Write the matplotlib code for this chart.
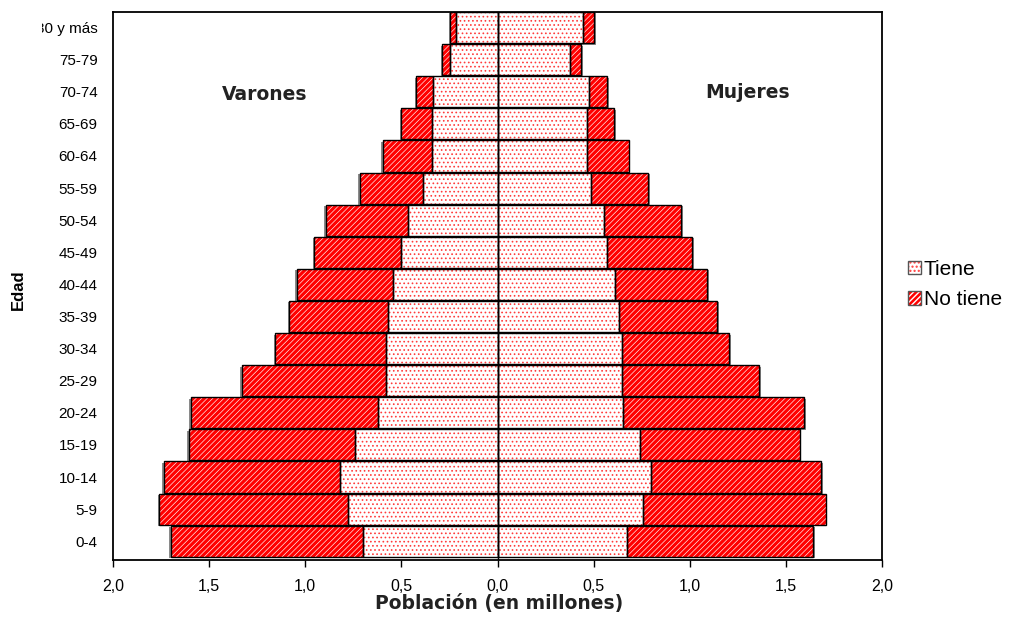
import numpy as np
import matplotlib
matplotlib.use("Agg")
import matplotlib.pyplot as plt
from matplotlib.patches import Patch
from matplotlib.legend_handler import HandlerTuple
from matplotlib.transforms import ScaledTranslation, Bbox, TransformedBbox

# ---------------- data ----------------
edades = ["0-4", "5-9", "10-14", "15-19", "20-24", "25-29", "30-34", "35-39",
          "40-44", "45-49", "50-54", "55-59", "60-64", "65-69", "70-74",
          "75-79", "80 y más"]
varones_tiene = [0.70, 0.78, 0.82, 0.74, 0.62, 0.58, 0.58, 0.57, 0.545,
                 0.50, 0.465, 0.39, 0.34, 0.34, 0.335, 0.245, 0.215]
varones_no_tiene = [1.00, 0.98, 0.915, 0.865, 0.975, 0.75, 0.577, 0.514, 0.498,
                    0.454, 0.429, 0.327, 0.256, 0.16, 0.087, 0.042, 0.031]
mujeres_tiene = [0.675, 0.755, 0.80, 0.74, 0.655, 0.65, 0.645, 0.63, 0.61,
                 0.57, 0.555, 0.488, 0.465, 0.465, 0.478, 0.379, 0.444]
mujeres_no_tiene = [0.967, 0.952, 0.884, 0.831, 0.94, 0.711, 0.56, 0.512, 0.48,
                    0.442, 0.40, 0.295, 0.219, 0.141, 0.093, 0.057, 0.059]
x_ticks = [-2.0, -1.5, -1.0, -0.5, 0.0, 0.5, 1.0, 1.5, 2.0]
x_tick_labels = ["2,0", "1,5", "1,0", "0,5", "0,0", "0,5", "1,0", "1,5", "2,0"]
serie_labels = ["Tiene", "No tiene"]

# ---------------- style ----------------
tick_font = ["Liberation Sans", "DejaVu Sans"]
RED = "#ff0000"
DOT_RED = "#ff3b3b"
DOTS = "...."
DIAG = "//////"
DOT_LW = 0.7
DIAG_LW = 0.45

W, H = 1013, 640
fig = plt.figure(figsize=(W / 100, H / 100), dpi=100)
ax = fig.add_axes([113 / W, 1 - 560 / H, (882 - 113) / W, (560 - 12) / H])

y = np.arange(len(edades))
h = 0.97
vt = np.array(varones_tiene)
vn = np.array(varones_no_tiene)
mt = np.array(mujeres_tiene)
mn = np.array(mujeres_no_tiene)

# shadows
sh_l = ax.barh(y, -(vt + vn), height=h, facecolor="#8a8a8a", linewidth=0, zorder=1)
sh_r = ax.barh(y, mt + mn, height=h, facecolor="#8a8a8a", linewidth=0, zorder=1)
for p in sh_l:
    p.set_transform(ax.transData + ScaledTranslation(-0.015, -0.015, fig.dpi_scale_trans))
for p in sh_r:
    p.set_transform(ax.transData + ScaledTranslation(0.015, -0.015, fig.dpi_scale_trans))

# hatched fills
for sign, t, n in ((-1, vt, vn), (1, mt, mn)):
    with plt.rc_context({"hatch.linewidth": DOT_LW}):
        ax.barh(y, sign * t, height=h, facecolor="white", edgecolor=DOT_RED,
                hatch=DOTS, linewidth=0, zorder=2)
    with plt.rc_context({"hatch.linewidth": DIAG_LW}):
        ax.barh(y, sign * n, left=sign * t, height=h, facecolor=RED, edgecolor="white",
                hatch=DIAG, linewidth=0, zorder=2)
    ax.barh(y, sign * t, height=h, fill=False, edgecolor="black", linewidth=1.0, zorder=3)
    ax.barh(y, sign * n, left=sign * t, height=h, fill=False, edgecolor="black",
            linewidth=1.0, zorder=3)

ax.axvline(0, color="black", linewidth=1.0, zorder=4)

ax.set_xlim(-2, 2)
ax.set_ylim(-h / 2 - 0.1, len(edades) - 1 + h / 2)
ax.set_xticks(x_ticks)
ax.set_xticklabels(x_tick_labels, family=tick_font, fontsize=11.5)
ax.set_yticks(y)
ax.set_yticklabels(edades, family=tick_font, fontsize=11)
ax.tick_params(axis="x", direction="out", length=5, width=1, pad=9)
ax.tick_params(axis="y", length=0, pad=11)
for s in ax.spines.values():
    s.set_linewidth(1.3)

# the top label is cut at the left in the original
lbl = ax.get_yticklabels()[-1]
lbl.set_clip_box(TransformedBbox(Bbox([[42 / W, 0], [1, 1]]), fig.transFigure))
lbl.set_clip_on(True)

# texts
bold = dict(family="DejaVu Sans", fontweight="bold", color="#222222")
fig.text(264.5 / W, 1 - 94 / H, "Varones", ha="center", va="center", fontsize=13.5, **bold)
fig.text(748 / W, 1 - 93 / H, "Mujeres", ha="center", va="center", fontsize=13.5, **bold)
fig.text(499 / W, 1 - 603 / H, "Población (en millones)", ha="center", va="center",
         fontsize=13.5, **bold)
fig.text(18 / W, 1 - 290 / H, "Edad", ha="center", va="center", rotation=90,
         family="Liberation Sans", fontweight="bold", fontsize=12)

# legend
with plt.rc_context({"hatch.linewidth": DOT_LW}):
    p_dots = Patch(facecolor="white", edgecolor=DOT_RED, hatch=DOTS, linewidth=0)
with plt.rc_context({"hatch.linewidth": DIAG_LW}):
    p_diag = Patch(facecolor=RED, edgecolor="white", hatch=DIAG, linewidth=0)
h_t = (p_dots, Patch(fill=False, edgecolor="#555555", linewidth=1.0))
h_n = (p_diag, Patch(fill=False, edgecolor="#555555", linewidth=1.0))
fig.legend([h_t, h_n], serie_labels, handler_map={tuple: HandlerTuple(ndivide=1)},
           loc="upper left", bbox_to_anchor=(908 / W, 1 - 260 / H), frameon=False,
           prop={"family": tick_font, "size": 15}, handlelength=0.6, handleheight=0.6,
           handletextpad=0.15, labelspacing=0.55, borderpad=0, borderaxespad=0)

fig.savefig("out.png", dpi=100)
